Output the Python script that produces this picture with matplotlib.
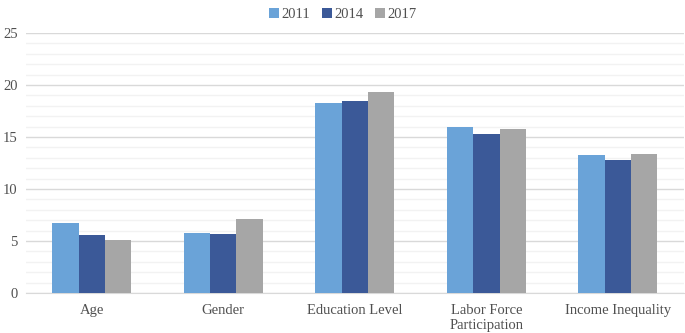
import matplotlib
matplotlib.use("Agg")
import matplotlib.pyplot as plt
import numpy as np

categories = ["Age", "Gender", "Education Level", "Labor Force\nParticipation", "Income Inequality"]
years = ["2011", "2014", "2017"]
v2011 = [6.7, 5.8, 18.3, 16.0, 13.3]
v2014 = [5.6, 5.65, 18.5, 15.3, 12.8]
v2017 = [5.1, 7.1, 19.35, 15.8, 13.4]
colors = ["#6aa3d8", "#3b5998", "#a6a6a6"]

plt.rcParams['font.family'] = ['Liberation Serif', 'DejaVu Serif']

fig = plt.figure(figsize=(6.85, 3.33), dpi=100)
ax = fig.add_axes([0.038, 0.12, 0.96, 0.781])

x = np.arange(len(categories))
w = 0.2
for i, (vals, c, lab) in enumerate(zip([v2011, v2014, v2017], colors, years)):
    ax.bar(x + (i - 1) * w, vals, w, color=c, label=lab, zorder=3)

ax.set_xlim(-0.5, len(categories) - 0.5)
ax.set_ylim(0, 25)
ax.set_yticks(np.arange(0, 26, 5))
ax.set_yticks(np.arange(0, 26, 1), minor=True)
ax.yaxis.grid(True, which='major', color='#d9d9d9', linewidth=1.0, zorder=0)
ax.yaxis.grid(True, which='minor', color='#f2f2f2', linewidth=1.0, zorder=0)
ax.set_xticks(x)
ax.set_xticklabels(categories, fontsize=10.5, color='#505050', linespacing=1.15)
ax.tick_params(axis='y', labelsize=10.5, labelcolor='#505050', length=0, which='both', pad=6)
ax.tick_params(axis='x', length=0, pad=8)
for s in ['top', 'right', 'left']:
    ax.spines[s].set_visible(False)
ax.spines['bottom'].set_color('#d9d9d9')

fig.legend(loc='upper center', bbox_to_anchor=(0.5, 1.015), ncol=3, frameon=False,
           fontsize=10.5, handlelength=0.7, handleheight=0.7, handletextpad=0.15,
           columnspacing=0.8, labelcolor='#505050')

fig.savefig("out.png", dpi=100)
